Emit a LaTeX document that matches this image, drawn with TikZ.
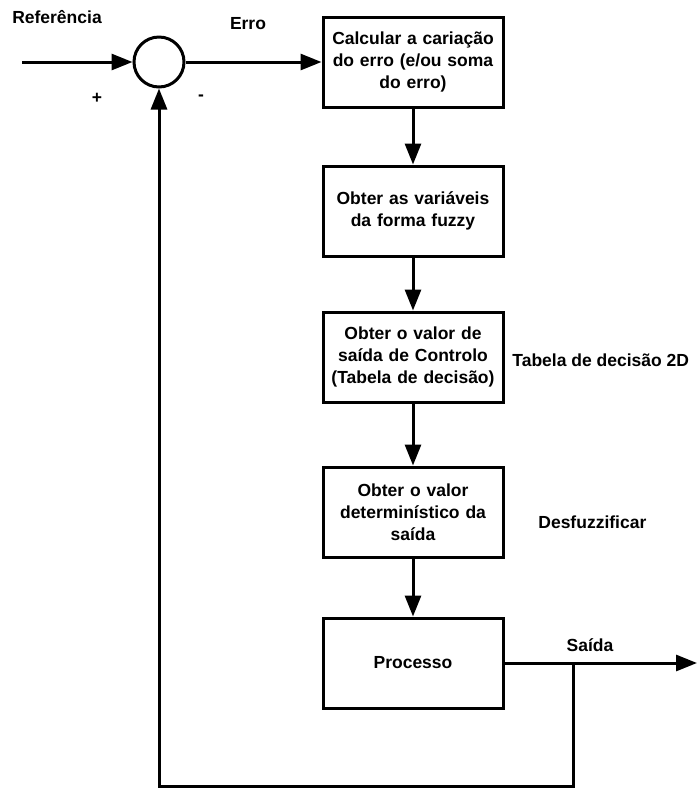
\documentclass[tikz,border=0pt]{standalone}
\usepackage{fontspec}
\setmainfont{Liberation Sans}
\usepackage{tikz}
\usetikzlibrary{arrows.meta, positioning, calc}
\tikzset{block/.style={rectangle,draw,line width=1.5pt,fill=white,text width=84pt,align=center,minimum width=90pt,minimum height=45pt,inner sep=2pt},
         summer/.style={circle,draw,line width=1.5pt,minimum size=25pt,inner sep=0pt},
         label/.style={font=\bfseries\fontsize{8.75}{11}\selectfont,inner sep=0pt},
         line/.style={line width=1.5pt},
         arrow/.style={-{Triangle[length=10.5pt,width=8pt]},line width=1.5pt}}

\begin{document}
\begin{tikzpicture}[x=0.5pt,y=-0.5pt,font=\bfseries\fontsize{8.75}{11}\selectfont]
    \useasboundingbox (0,0) rectangle (699,789);
    % Sum and blocks
    \node (sum) at (159,62) [summer]{};
    \node (calc) at (413,62) [block]{Calcular a cariação\\do erro (e/ou soma\\do erro)};
    \node (fuzz) at (413,211) [block]{Obter as variáveis\\da forma fuzzy};
    \node (ctrl) at (413,357) [block]{Obter o valor de\\saída de Controlo\\(Tabela de decisão)};
    \node (defz) at (413,512) [block]{Obter o valor\\determinístico da\\saída};
    \node (proc) at (413,663) [block]{Processo};
    % Labels
    \node (ref) at (57,17) [label]{Referência};
    \node (err) at (248,24) [label]{Erro};
    \node (plus) at (97,98) [label]{+};
    \node (minus) at (201,98) [label]{-};
    \node (tab) at (512,360) [label,anchor=west]{Tabela de decisão 2D};
    \node (desf) at (538,522) [label,anchor=west]{Desfuzzificar};
    \node (out) at (590,645) [label]{Saída};
    % Coordinates
    \coordinate (in) at (22,62);
    \coordinate (tap) at (573,663);
    \coordinate (end) at (697,663);
    \coordinate (bot) at (159,786);
    % Connections
    \draw[arrow] (in) -- (sum.west);
    \draw[arrow] (sum.east) -- (calc.west);
    \draw[arrow] (calc.south) -- (fuzz.north);
    \draw[arrow] (fuzz.south) -- (ctrl.north);
    \draw[arrow] (ctrl.south) -- (defz.north);
    \draw[arrow] (defz.south) -- (proc.north);
    \draw[arrow] (proc.east) -- (end);
    \draw[arrow] (tap) |- (bot) -- (sum.south);
\end{tikzpicture}
\end{document}
